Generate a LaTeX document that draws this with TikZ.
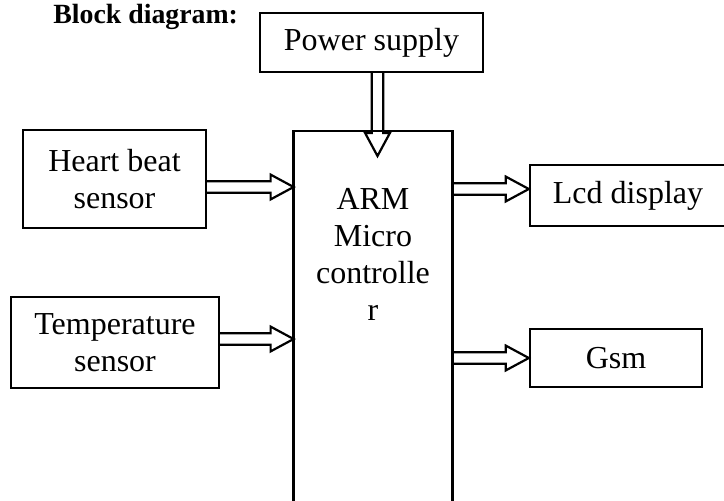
\documentclass[tikz,border=0pt]{standalone}
\usepackage{fontspec}
\setmainfont{Liberation Serif}
\usetikzlibrary{calc,positioning}

\tikzset{
  blk/.style={draw, line width=1.2pt, inner sep=0pt, align=center, font=\fontsize{16}{18.5}\selectfont},
  arrowline/.style={line width=1.1pt, line join=miter},
}
% hollow block arrow from #1 to #2
\newcommand{\hollowarrow}[2]{%
  \path ($(#2)!11.5pt!(#1)$) coordinate (hc);
  \draw[arrowline] ($(#1)!2.9pt!90:(#2)$) -- ($(hc)!2.9pt!90:(#2)$) -- ($(hc)!6.2pt!90:(#2)$) -- (#2)
    -- ($(hc)!6.2pt!-90:(#2)$) -- ($(hc)!2.9pt!-90:(#2)$) -- ($(#1)!2.9pt!-90:(#2)$);
}

\begin{document}
\begin{tikzpicture}[x=0.5pt, y=-0.5pt]
  \useasboundingbox (0,0) rectangle (724,500);
  % Tieu de
  \node[anchor=base west, inner sep=0pt, font=\bfseries\fontsize{13.9}{16}\selectfont] (title) at (53,23) {Block diagram:};

  % Cac khoi
  \node[blk, minimum width=111.5pt, minimum height=29.5pt] (power) at (371.5,42.5) {Power supply};
  \node[blk, minimum width=91.5pt, minimum height=49pt] (heart) at (114.5,179) {Heart beat\\sensor};
  \node[blk, minimum width=104pt, minimum height=45.5pt] (temp) at (115,342.5) {Temperature\\sensor};
  \node[blk, minimum width=98pt, minimum height=30.5pt] (lcd) at (628,195.5) {Lcd display};
  \node[blk, minimum width=86pt, minimum height=29pt] (gsm) at (616,358) {Gsm};

  % Khoi ARM (day bi cat)
  \node[inner sep=0pt, minimum width=79pt, minimum height=190pt, anchor=north] (arm) at (373,131) {};
  \draw[line width=1.2pt] (arm.south west) -- (arm.north west) -- (arm.north east) -- (arm.south east);
  \node[blk, draw=none, anchor=north] (armtext) at ($(arm.north)+(0,56)$) {ARM\\Micro\\controlle\\r};

  % Mui ten
  \coordinate (ps) at ($(power.south)+(6,0)$);
  \coordinate (pe) at ($(ps |- arm.north)+(0,25)$);
  \hollowarrow{ps}{pe}
  \coordinate (hs) at ($(heart.east)+(0,8)$);
  \coordinate (he) at (arm.west |- hs);
  \hollowarrow{hs}{he}
  \coordinate (ts) at ($(temp.east)+(0,-3.5)$);
  \coordinate (te) at (arm.west |- ts);
  \hollowarrow{ts}{te}
  \coordinate (le) at ($(lcd.west)+(0,-6.5)$);
  \coordinate (ls) at (arm.east |- le);
  \hollowarrow{ls}{le}
  \coordinate (ge) at (gsm.west);
  \coordinate (gs) at (arm.east |- ge);
  \hollowarrow{gs}{ge}
\end{tikzpicture}
\end{document}
